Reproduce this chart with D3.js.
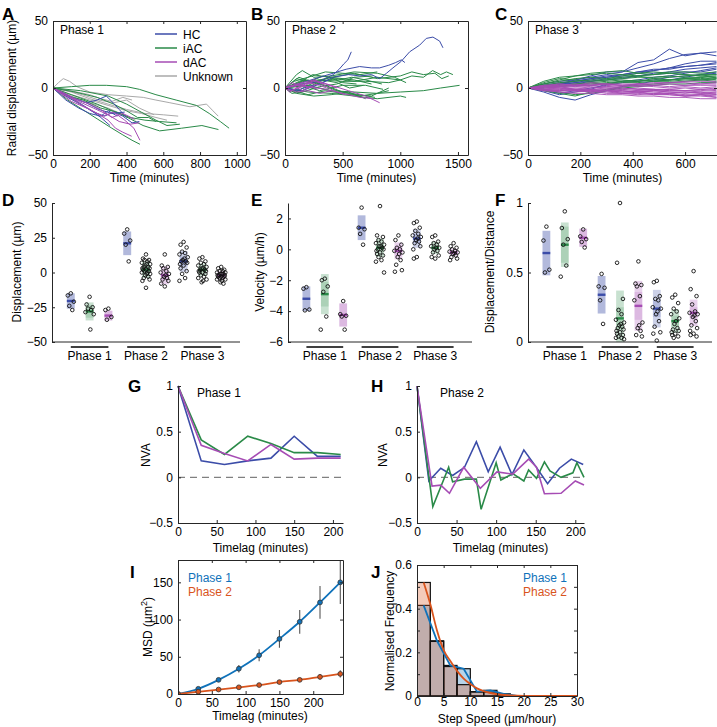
<!DOCTYPE html>
<html><head><meta charset="utf-8">
<script src="https://cdn.jsdelivr.net/npm/d3@7"></script>
<style>body{margin:0;background:#fff}</style>
</head><body><script>
// ---------------- DATA ----------------
const cellTypes = ["HC","iAC","dAC","Unknown"];
const typeColors = {HC:"#3b4ca8", iAC:"#2a8a48", dAC:"#a64cb4", Unknown:"#a9a9a9"};

// Panel A (Phase 1) trajectories: [time (min), radial displacement (µm)]
const trajA_HC = [
 [[0,0],[60,-4],[120,-8],[180,-11],[240,-9],[290,-6],[320,-10],[360,-16],[400,-22]],
 [[0,0],[80,-7],[160,-13],[220,-18],[280,-21],[330,-18],[380,-21],[430,-26],[470,-25]],
 [[0,0],[70,-9],[140,-15],[200,-19],[260,-21],[300,-17],[350,-21]],
 [[0,0],[60,-5],[130,-10],[200,-16],[260,-22],[310,-28]],
 [[0,0],[100,-7],[180,-11],[250,-16],[320,-19],[390,-18]]
];
const trajA_iAC = [
 [[0,0],[100,1],[200,2],[290,2],[400,1],[470,-1],[560,-5],[670,-9],[780,-13],[850,-19],[910,-25],[958,-30]],
 [[0,0],[80,-6],[165,-9],[260,-15],[346,-18],[420,-23],[490,-28],[580,-32],[700,-30],[810,-28],[900,-31]],
 [[0,0],[80,-9],[160,-16],[240,-23],[320,-30],[380,-35],[430,-39],[473,-42]],
 [[0,0],[120,-6],[240,-12],[340,-18],[420,-22],[500,-24],[580,-25],[672,-26]],
 [[0,0],[120,-3],[240,-7],[330,-12],[400,-17],[460,-22],[520,-22],[560,-25]],
 [[0,0],[150,-2],[300,-6],[400,-12],[480,-18],[560,-24],[620,-28],[690,-27]]
];
const trajA_dAC = [
 [[0,0],[80,-6],[160,-13],[240,-19],[300,-24],[340,-30],[380,-33],[428,-36]],
 [[0,0],[100,-10],[200,-16],[270,-21],[330,-18],[390,-24],[440,-30],[473,-39]],
 [[0,0],[60,-5],[140,-10],[220,-15],[300,-20],[360,-25],[420,-27],[470,-26]],
 [[0,0],[50,-3],[120,-8],[200,-12],[260,-16],[320,-22],[380,-19],[440,-23]]
];
const trajA_Unknown = [
 [[0,0],[30,4],[56,7],[90,5],[130,1],[200,-3],[300,-5],[400,-6],[491,-7],[560,-9],[636,-11],[745,-14],[835,-12],[870,-17],[899,-21]],
 [[0,0],[100,-3],[200,-8],[300,-12],[400,-16],[500,-19],[600,-20],[681,-21]],
 [[0,0],[100,-5],[200,-9],[300,-13],[400,-17],[480,-19],[560,-22],[620,-24]],
 [[0,0],[80,-2],[160,-5],[250,-9],[330,-11],[400,-9],[470,-15],[550,-20]],
 [[0,0],[60,-1],[130,-3],[200,-5],[260,-8],[320,-10],[380,-7],[430,-9]],
 [[0,0],[100,-6],[200,-11],[300,-15],[400,-21],[450,-24]]
];

// Panel B (Phase 2)
const trajB_HC = [
 [[0,0],[150,-2],[300,3],[416,8],[550,10],[650,9],[750,10],[821,7],[880,11],[936,15],[1009,20],[1081,27],[1168,32],[1225,37],[1283,38],[1341,35],[1370,30]],
 [[0,0],[150,4],[300,8],[416,11],[530,14],[647,16],[750,15],[821,15],[900,17],[960,19],[1009,21],[1040,19]],
 [[0,0],[150,3],[300,5],[420,10],[470,14],[510,18],[545,21],[575,27]],
 [[0,0],[100,-2],[200,1],[300,3],[380,6]]
];
const trajB_iAC = [
 [[0,0],[200,2],[400,-2],[600,-3],[800,-4],[1000,-3],[1200,-2],[1350,0],[1514,2]],
 [[0,0],[150,5],[300,6],[500,5],[700,5],[900,4],[1000,6],[1100,9],[1200,8],[1280,13],[1350,10],[1400,12],[1456,10]],
 [[0,0],[200,4],[400,8],[600,11],[800,7],[1000,9],[1100,12],[1200,10],[1300,11],[1360,7],[1420,9]],
 [[0,0],[100,10],[150,13],[250,8],[400,9],[600,12],[800,11],[950,8],[1050,4]],
 [[0,0],[200,-3],[400,-4],[600,-6],[800,-8],[1000,-6],[1050,-7]],
 [[0,0],[150,6],[300,3],[450,-2],[600,-5],[750,-6],[900,0]],
 [[0,0],[100,-4],[250,-6],[400,-5],[550,-3],[700,-8]],
 [[0,0],[80,5],[200,8],[350,12],[500,11],[650,10],[800,12]],
 [[0,0],[150,2],[300,-2],[500,2],[700,2],[850,-1]],
 [[0,0],[100,7],[250,4],[400,8],[600,6],[750,3]],
 [[0,0],[60,-4],[150,-3],[300,1],[450,3],[600,8],[760,9]],
 [[0,0],[200,-5],[350,-2],[500,-4],[650,-6],[800,-4],[900,-2]],
 [[0,0],[120,4],[240,10],[380,8],[500,4],[620,3]],
 [[0,0],[150,-2],[300,5],[450,7],[600,5],[800,8],[1000,6]],
 [[0,0],[100,3],[200,6],[350,2],[500,-3],[650,-5],[780,-7]],
 [[0,0],[90,-3],[200,2],[320,6],[450,4],[560,0],[680,2]],
 [[0,0],[120,8],[220,5],[330,9],[460,6],[580,8],[700,6],[840,3]]
];
const trajB_dAC = [
 [[0,0],[100,3],[250,6],[400,2],[550,-2],[700,-6],[821,-11]],
 [[0,0],[80,2],[200,1],[350,-1],[500,-4],[650,-7],[760,-8]],
 [[0,0],[50,-2],[150,1],[250,5],[350,3],[450,0]],
 [[0,0],[60,4],[120,2],[200,4],[300,2],[360,0]],
 [[0,0],[100,-3],[200,-2],[300,-4],[400,-2]],
 [[0,0],[70,2],[150,-2],[220,1],[280,-1]],
 [[0,0],[60,1],[140,3],[200,0],[260,2]],
 [[0,0],[40,-3],[100,0],[180,3],[260,6],[340,2],[420,-2],[520,-5]]
];

// Panel C (Phase 3): values at common times
const timesC = [0,60,120,180,240,300,360,420,480,540,600,660,720];
const trajC_HC = [
 [0,3,5,6,9,12,12,19,21,29,24,26,24],
 [0,1,3,6,8,10,12,15,18,22,25,26,27],
 [0,1,3,4,6,8,9,11,13,15,18,20,20],
 [0,2,4,5,7,9,10,12,14,14,16,17,18],
 [0,-2,-5,-3,-1,3,5,6,8,9,11,13,15],
 [0,-3,-7,-9,-5,-2,1,3,5,6,8,10,12],
 [0,1,2,4,5,7,8,9,10,11,12,12,14],
 [0,-1,-4,-2,0,2,4,5,6,8,9,10,11],
 [0,2,3,5,7,8,10,12,13,15,16,17,19],
 [0,1,3,3,5,6,7,9,11,12,14,15,16]
];
const trajC_iAC = [
 [0,5,8,9,11,12,13,11,10,12,12,11,12],
 [0,3,6,9,10,11,10,9,10,11,10,9,10],
 [0,2,4,5,6,6,7,8,8,9,8,8,9],
 [0,-2,-4,-6,-3,-1,1,2,3,4,5,6,7],
 [0,1,2,3,3,4,5,5,6,6,7,7,8],
 [0,4,7,6,5,6,8,9,7,6,7,8,6],
 [0,2,1,3,4,5,6,5,7,8,9,10,10],
 [0,1,3,2,4,3,5,6,5,6,7,6,5],
 [0,3,5,7,8,7,9,11,12,11,10,9,8],
 [0,0,1,2,2,3,4,4,5,5,6,6,7],
 [0,-1,-3,-5,-4,-2,0,1,2,3,3,4,4]
];
const trajC_dAC = [
 [0,-1,-2,-2,-3,-3,-4,-4,-5,-5,-6,-6,-7],
 [0,1,0,-1,-2,-2,-3,-3,-4,-4,-5,-5,-5],
 [0,2,1,2,1,0,0,-1,-1,-2,-2,-3,-3],
 [0,-2,-3,-4,-4,-5,-5,-6,-6,-7,-7,-8,-8],
 [0,1,2,1,2,3,2,3,3,4,4,3,4],
 [0,0,-1,0,-1,0,-1,0,-1,-1,0,-1,0],
 [0,-1,-1,-2,-2,-1,-2,-3,-2,-3,-3,-4,-4],
 [0,1,1,2,2,3,3,3,4,4,5,5,5],
 [0,-1,-3,-3,-2,-4,-4,-5,-4,-5,-6,-5,-6],
 [0,2,3,2,3,2,1,2,1,0,1,0,1],
 [0,-2,-2,-1,-3,-2,-3,-2,-3,-4,-3,-4,-3],
 [0,1,0,1,0,1,2,1,2,1,2,2,2],
 [0,-1,-2,-1,-1,-2,-1,-2,-2,-1,-2,-2,-1],
 [0,0,1,-1,-1,-2,-2,-3,-2,-3,-4,-3,-5],
 [0,1,2,3,2,1,0,-1,-1,-2,-2,-1,-2],
 [0,-1,0,-2,-3,-2,-4,-3,-5,-4,-6,-5,-7],
 [0,1,3,2,4,3,2,3,2,3,2,3,3]
];

// Panels D-F: groups ordered Phase1(HC,iAC,dAC), Phase2(...), Phase3(...)
const phases = ["Phase 1","Phase 2","Phase 3"];
const groupTypes = ["HC","iAC","dAC","HC","iAC","dAC","HC","iAC","dAC"];
const dispMean = [-20.5,-28,-31,21,2,-2,8,2,-2];
const dispSD   = [5.5,6.5,3.5,8.5,6,6.5,7.5,4.5,3];
const dispCI   = [5.5,4.5,3.5,8.5,2.5,3.5,3.5,2,1.2];
const dispPoints = [
 [-15,-16.5,-21,-24,-27],
 [-17.5,-23,-25,-26,-27,-28.5,-30,-41],
 [-26,-27,-32,-34],
 [31,28,23,20,8],
 [13,10,9,9,8,7,6,6,5,4,4,3,3,2,2,1,1,0,0,-1,-1,-2,-3,-4,-5,-6,-11],
 [13,5,4,3,1,0,-1,-2,-3,-4,-5,-6,-8,-10],
 [22,20,18,15,14,13,11,10,9,8,8,7,6,5,3,1,-1,-4,-6],
 [11,10,8,7,6,5,4,3,3,2,2,1,1,0,0,-1,-2,-3,-4,-5,-6,-7],
 [4,3,2,1,1,0,0,-1,-1,-1,-2,-2,-2,-3,-3,-3,-4,-4,-5,-5,-6,-7,-8]
];
const velMean = [-3.2,-2.9,-4.25,1.4,0.1,-0.1,0.7,0.1,-0.2];
const velSD   = [0.8,1.3,0.75,0.8,0.6,0.55,0.6,0.4,0.25];
const velCI   = [0.8,0.8,0.75,0.8,0.25,0.3,0.3,0.15,0.1];
const velPoints = [
 [-2.45,-2.55,-3.9,-3.95],
 [-1.9,-2.0,-2.4,-2.75,-4.35,-5.2],
 [-3.35,-4.2,-4.3,-4.35,-5.2],
 [2.7,1.4,1.3,1.0,0.3],
 [2.8,0.9,0.8,0.6,0.5,0.4,0.3,0.2,0.2,0.1,0.0,0.0,-0.1,-0.2,-0.3,-0.4,-0.5,-0.7,-0.8,-1.5],
 [0.9,0.6,0.3,0.1,0.0,-0.1,-0.2,-0.3,-0.5,-0.7,-1.0,-1.35,-1.45],
 [1.8,1.7,1.4,1.2,1.0,0.9,0.8,0.7,0.6,0.5,0.4,0.2,0.0,-0.5,-0.6],
 [0.9,0.8,0.5,0.4,0.3,0.2,0.1,0.1,0.0,-0.1,-0.2,-0.4,-0.5,-0.6],
 [0.4,0.2,0.1,0.0,-0.1,-0.15,-0.2,-0.25,-0.3,-0.4,-0.5,-0.6,-0.7]
];
const ratioMean = [0.64,0.70,0.75,0.34,0.17,0.26,0.24,0.15,0.21];
const ratioSD   = [0.16,0.16,0.065,0.135,0.2,0.18,0.135,0.085,0.095];
const ratioCI   = [0.16,0.13,0.065,0.135,0.08,0.1,0.06,0.04,0.04];
const ratioPoints = [
 [0.83,0.73,0.52,0.50],
 [0.94,0.82,0.74,0.70,0.55,0.47],
 [0.81,0.76,0.74,0.72,0.68],
 [0.49,0.40,0.39,0.30,0.13],
 [1.0,0.57,0.31,0.23,0.2,0.16,0.14,0.13,0.12,0.11,0.1,0.09,0.08,0.07,0.06,0.05,0.04,0.03,0.03,0.02],
 [0.58,0.42,0.41,0.4,0.33,0.3,0.14,0.12,0.1,0.08,0.05,0.04],
 [0.44,0.43,0.33,0.31,0.3,0.25,0.24,0.22,0.2,0.15,0.11,0.07,0.06,0.01],
 [0.34,0.32,0.28,0.24,0.22,0.2,0.17,0.15,0.13,0.1,0.09,0.08,0.07,0.06,0.05,0.04,0.03],
 [0.51,0.38,0.33,0.27,0.22,0.21,0.2,0.19,0.18,0.15,0.12,0.1,0.08,0.06,0.05,0.04]
];

// Panel G (Phase 1 NVA)
const nvaG_HC  = [[0,1],[30,0.18],[60,0.14],[90,0.18],[120,0.21],[150,0.45],[180,0.23],[210,0.23]];
const nvaG_iAC = [[0,1],[30,0.41],[60,0.25],[90,0.45],[120,0.37],[150,0.27],[180,0.27],[210,0.25]];
const nvaG_dAC = [[0,1],[30,0.35],[60,0.26],[90,0.18],[120,0.36],[150,0.20],[180,0.21],[210,0.21]];
// Panel H (Phase 2 NVA)
const nvaH_HC  = [[0,1],[15,-0.04],[30,0.1],[45,0.02],[60,0.11],[75,0.39],[90,0.06],[105,0.33],[120,0.03],[135,0.3],[150,0.12],[165,-0.07],[180,0.1],[195,0.2],[210,0.14]];
const nvaH_iAC = [[0,1],[20,-0.32],[40,0.11],[45,-0.05],[60,-0.02],[75,-0.02],[81,-0.35],[100,0.16],[106,-0.03],[121,0.04],[135,-0.04],[141,0.08],[151,-0.01],[161,0.17],[168,0.07],[182,0.0],[197,0.05],[202,0.16],[211,0.0]];
const nvaH_dAC = [[0,1],[19,-0.095],[30,-0.085],[41,-0.175],[59,0.11],[80,-0.12],[101,0.06],[121,0.035],[141,0.2],[151,0.11],[161,-0.18],[182,-0.175],[200,-0.04],[211,-0.085]];

// Panel I (MSD)
const msdTimes = [0,30,60,90,120,150,180,210,240];
const msdP1 = [0,7,19,34,52,74,97,123,150];
const msdP1err = [0,2,2.5,5,8,12,16,22,29];
const msdP2 = [0,3,6,9,12,16,19,23,27];
const msdP2err = [0,1,1,1.5,2,2,2.5,4,5];
const phaseColors = {"Phase 1":"#0f72ba", "Phase 2":"#d9541d"};

// Panel J (step speed histogram)
const binEdges = [0,2.5,5,7.5,10,12.5,15,17.5,20];
const histP1 = [0.415,0.253,0.14,0.125,0.02,0.026,0.01,0];
const histP2 = [0.52,0.25,0.135,0.052,0.018,0.018,0.005,0];
const lineP1 = [[1.25,0.415],[3.75,0.253],[6.25,0.14],[8.75,0.125],[11.25,0.02],[13.75,0.026],[16.25,0.01],[18.75,0],[30,0]];
const fitP2 = [[1.25,0.52],[2.5,0.42],[3.75,0.3],[5,0.21],[6.25,0.16],[7.5,0.115],[8.75,0.08],[10,0.055],[11.25,0.035],[12.5,0.022],[15,0.008],[17.5,0.003],[20,0.001],[30,0]];

// ---------------- DRAWING ----------------
const FONT = '"Liberation Sans", Arial, Helvetica, sans-serif';
const AX = "#262626";
const svg = d3.select("body").append("svg").attr("width",717).attr("height",727)
  .attr("font-family",FONT).attr("font-size",12);

function styleAxis(g){
  g.attr("font-size",12).attr("font-family",FONT);
  g.selectAll("path,line").attr("stroke",AX);
  g.selectAll("text").attr("fill","#000");
  return g;
}
function text(x,y,t,o={}){
  const el = svg.append("text").attr("x",x).attr("y",y).text(t)
    .attr("font-size",o.size||12).attr("fill",o.fill||"#000")
    .attr("text-anchor",o.anchor||"start");
  if(o.bold) el.attr("font-weight","bold");
  if(o.rotate) el.attr("transform",`rotate(-90,${x},${y})`);
  return el;
}
const fmtG = d => d3.format("~g")(d);
function axisB(x,y0,ticks,fmt,size=-3,pad=4){
  return svg.append("g").attr("transform",`translate(0,${y0})`)
    .call(d3.axisBottom(x).tickValues(ticks).tickFormat(fmt||fmtG).tickSizeInner(size).tickSizeOuter(0).tickPadding(pad)).call(styleAxis);
}
function axisL(y,x0,ticks,fmt,size=-3,pad=5){
  return svg.append("g").attr("transform",`translate(${x0},0)`)
    .call(d3.axisLeft(y).tickValues(ticks).tickFormat(fmt||fmtG).tickSizeInner(size).tickSizeOuter(0).tickPadding(pad)).call(styleAxis);
}
function axisT(x,y0,ticks){
  return svg.append("g").attr("transform",`translate(0,${y0})`)
    .call(d3.axisTop(x).tickValues(ticks).tickFormat("").tickSizeInner(-3).tickSizeOuter(0)).call(styleAxis);
}
function axisR(y,x0,ticks){
  return svg.append("g").attr("transform",`translate(${x0},0)`)
    .call(d3.axisRight(y).tickValues(ticks).tickFormat("").tickSizeInner(-3).tickSizeOuter(0)).call(styleAxis);
}
let clipN=0;
function clip(x,y){
  const id="clip"+(clipN++);
  svg.append("clipPath").attr("id",id).append("rect")
    .attr("x",x.range()[0]).attr("y",y.range()[1])
    .attr("width",x.range()[1]-x.range()[0]).attr("height",y.range()[0]-y.range()[1]);
  return `url(#${id})`;
}

// ---- A, B, C ----
function trajPanel(x,y,xticks,groups,title,letter,lx){
  const g = svg.append("g").attr("clip-path",clip(x,y));
  const line = d3.line().x(d=>x(d[0])).y(d=>y(d[1]));
  groups.forEach(([type,arr,op])=>{
    arr.forEach(tr=>{
      g.append("path").attr("d",line(tr)).attr("fill","none")
        .attr("stroke",typeColors[type]).attr("stroke-width",1).attr("stroke-opacity",op||1);
    });
  });
  axisB(x,y.range()[0],xticks);
  axisL(y,x.range()[0],[-50,0,50]);
  axisT(x,y.range()[1],xticks);
  axisR(y,x.range()[1],[-50,0,50]);
  text(x.range()[0]+7,34,title);
  text((x.range()[0]+x.range()[1])/2,182,"Time (minutes)",{anchor:"middle"});
  text(lx,20,letter,{size:17,bold:true});
}
const yTop = d3.scaleLinear([-50,50],[155,21]);
const xA = d3.scaleLinear([0,1050],[53,246]);
trajPanel(xA,yTop,[0,200,400,600,800,1000],
  [["Unknown",trajA_Unknown],["iAC",trajA_iAC],["HC",trajA_HC],["dAC",trajA_dAC]],"Phase 1","A",2);
const xB = d3.scaleLinear([0,1587],[285,468]);
trajPanel(xB,yTop,[0,500,1000,1500],
  [["iAC",trajB_iAC],["HC",trajB_HC],["dAC",trajB_dAC]],"Phase 2","B",251);
const xC = d3.scaleLinear([0,722],[528,717]);
const toPairs = arr => arr.map(v=>v.map((y,i)=>[timesC[i],y]));
trajPanel(xC,yTop,[0,200,400,600],
  [["HC",toPairs(trajC_HC)],["iAC",toPairs(trajC_iAC)],["dAC",toPairs(trajC_dAC),0.9]],"Phase 3","C",495);
text(16,88,"Radial displacement (µm)",{anchor:"middle",rotate:true});
// legend A
cellTypes.forEach((t,i)=>{
  const yy = 34+i*14;
  svg.append("line").attr("x1",155).attr("x2",177).attr("y1",yy).attr("y2",yy)
    .attr("stroke",typeColors[t]).attr("stroke-width",1.5);
  text(183,yy+4.5,t);
});

// ---- D, E, F ----
const jit = [0,-0.16,0.16,-0.08,0.08,-0.22,0.22,0.04,-0.04,0.12,-0.12,0.19,-0.19];
function dotPanel(x0,x1,domain,ticks,means,sds,cis,pts,ylabel,labX,letter,letX){
  const x = d3.scaleLinear([0,10],[x0,x1]);
  const y = d3.scaleLinear(domain,[342,203]);
  const g = svg.append("g").attr("clip-path",clip(x,y));
  const gp = svg.append("g");
  const hw = 0.21;
  means.forEach((m,i)=>{
    const pos=i+1, c=typeColors[groupTypes[i]];
    g.append("rect").attr("x",x(pos-hw)).attr("width",x(pos+hw)-x(pos-hw))
      .attr("y",y(m+sds[i])).attr("height",y(m-sds[i])-y(m+sds[i]))
      .attr("fill",c).attr("fill-opacity",0.26);
    g.append("rect").attr("x",x(pos-hw)).attr("width",x(pos+hw)-x(pos-hw))
      .attr("y",y(m+cis[i])).attr("height",y(m-cis[i])-y(m+cis[i]))
      .attr("fill",c).attr("fill-opacity",0.18);
    g.append("line").attr("x1",x(pos-hw)).attr("x2",x(pos+hw)).attr("y1",y(m)).attr("y2",y(m))
      .attr("stroke",c).attr("stroke-width",2.4);
    pts[i].forEach((v,k)=>{
      gp.append("circle").attr("cx",x(pos+jit[k%jit.length])).attr("cy",y(v)).attr("r",1.8)
        .attr("fill","none").attr("stroke","#111").attr("stroke-width",0.9);
    });
  });
  axisL(y,x0,ticks);
  svg.append("line").attr("x1",x0).attr("x2",x1).attr("y1",342).attr("y2",342).attr("stroke",AX);
  phases.forEach((p,j)=>{
    svg.append("line").attr("x1",x(3*j+1)).attr("x2",x(3*j+3)).attr("y1",347).attr("y2",347)
      .attr("stroke","#000").attr("stroke-width",1.5);
    text(x(3*j+2),360,p,{anchor:"middle"});
  });
  text(labX,272,ylabel,{anchor:"middle",rotate:true});
  text(letX,206,letter,{size:17,bold:true});
}
dotPanel(52,240,[-50,50],[-50,-25,0,25,50],dispMean,dispSD,dispCI,dispPoints,"Displacement (µm)",21,"D",2);
dotPanel(288,472,[-6,3],[-6,-4,-2,0,2],velMean,velSD,velCI,velPoints,"Velocity (µm/h)",264,"E",251);
dotPanel(528,712,[0,1],[0,0.5,1],ratioMean,ratioSD,ratioCI,ratioPoints,"Displacement/Distance",494,"F",495);

// ---- G, H ----
function nvaPanel(x,series,title,titleX,labX,letter,letX){
  const y = d3.scaleLinear([-0.5,1],[523,386]);
  svg.append("line").attr("x1",x.range()[0]).attr("x2",x.range()[1]).attr("y1",y(0)).attr("y2",y(0))
    .attr("stroke","#808080").attr("stroke-width",1.2).attr("stroke-dasharray","7,5");
  const line = d3.line().x(d=>x(d[0])).y(d=>y(d[1]));
  series.forEach(([type,d])=>{
    svg.append("path").attr("d",line(d)).attr("fill","none").attr("stroke",typeColors[type]).attr("stroke-width",1.6);
  });
  axisB(x,523,[0,50,100,150,200]);
  axisL(y,x.range()[0],[-0.5,0,0.5,1]);
  text(titleX,397,title);
  text((x.range()[0]+x.range()[1])/2,552,"Timelag (minutes)",{anchor:"middle"});
  text(labX,455,"NVA",{anchor:"middle",rotate:true});
  text(letX,392,letter,{size:17,bold:true});
}
nvaPanel(d3.scaleLinear([0,213],[178,343]),[["HC",nvaG_HC],["iAC",nvaG_iAC],["dAC",nvaG_dAC]],"Phase 1",197,150,"G",128);
nvaPanel(d3.scaleLinear([0,211],[417,584]),[["HC",nvaH_HC],["iAC",nvaH_iAC],["dAC",nvaH_dAC]],"Phase 2",440,387,"H",371);

// ---- I ----
(function(){
  const x = d3.scaleLinear([0,244],[178,343]);
  const y = d3.scaleLinear([0,180],[694,560]);
  const g = svg.append("g").attr("clip-path",clip(x,y));
  const line = d3.line().x(d=>x(d[0])).y(d=>y(d[1])).curve(d3.curveMonotoneX);
  [["Phase 1",msdP1,msdP1err],["Phase 2",msdP2,msdP2err]].forEach(([p,vals,err])=>{
    const c = phaseColors[p];
    const pts = msdTimes.map((t,i)=>[t,vals[i],err[i]]);
    g.append("path").attr("d",line(pts)).attr("fill","none").attr("stroke",c).attr("stroke-width",1.8);
    pts.forEach(d=>{
      if(d[2]>0) g.append("line").attr("x1",x(d[0])).attr("x2",x(d[0])).attr("y1",y(d[1]-d[2])).attr("y2",y(d[1]+d[2]))
        .attr("stroke","#555").attr("stroke-width",1.1);
    });
    pts.forEach(d=>{
      g.append("circle").attr("cx",x(d[0])).attr("cy",y(d[1])).attr("r",2.4)
        .attr("fill",c).attr("stroke","#333").attr("stroke-width",0.8);
    });
  });
  axisB(x,694,[0,50,100,150,200]);
  axisL(y,178,[0,50,100,150]);
  axisT(x,560,[0,50,100,150,200]);
  axisR(y,343,[0,50,100,150]);
  text(188,582,"Phase 1",{fill:phaseColors["Phase 1"]});
  text(188,596,"Phase 2",{fill:phaseColors["Phase 2"]});
  text(260,720,"Timelag (minutes)",{anchor:"middle"});
  const lab = svg.append("text").attr("transform","translate(152,627) rotate(-90)").attr("text-anchor","middle").attr("font-size",12);
  lab.append("tspan").text("MSD (µm");
  lab.append("tspan").text("2").attr("font-size",9).attr("dy",-5);
  lab.append("tspan").text(")").attr("dy",5);
  text(130,578,"I",{size:17,bold:true});
})();

// ---- J ----
(function(){
  const x = d3.scaleLinear([0,30],[417,577]);
  const y = d3.scaleLinear([0,0.6],[696,565]);
  const g = svg.append("g").attr("clip-path",clip(x,y));
  [["Phase 1",histP1],["Phase 2",histP2]].forEach(([p,h])=>{
    h.forEach((v,i)=>{
      if(v<=0) return;
      g.append("rect").attr("x",x(binEdges[i])).attr("width",x(binEdges[i+1])-x(binEdges[i]))
        .attr("y",y(v)).attr("height",y(0)-y(v))
        .attr("fill",phaseColors[p]).attr("fill-opacity",0.3)
        .attr("stroke","#111").attr("stroke-width",1.2);
    });
  });
  const line = d3.line().x(d=>x(d[0])).y(d=>y(d[1]));
  g.append("path").attr("d",line(lineP1)).attr("fill","none").attr("stroke",phaseColors["Phase 1"]).attr("stroke-width",1.8);
  g.append("path").attr("d",line.curve(d3.curveMonotoneX)(fitP2)).attr("fill","none").attr("stroke",phaseColors["Phase 2"]).attr("stroke-width",1.8);
  const yt = [0,0.1,0.2,0.3,0.4,0.5,0.6];
  axisB(x,696,[0,5,10,15,20,25,30],null,-3,1);
  axisL(y,417,yt,d=>[0,0.2,0.4,0.6].some(v=>Math.abs(v-d)<1e-9)?fmtG(d):"");
  axisT(x,565,[0,5,10,15,20,25,30]);
  axisR(y,577,yt);
  text(523,582,"Phase 1",{fill:phaseColors["Phase 1"]});
  text(523,596,"Phase 2",{fill:phaseColors["Phase 2"]});
  text(497,723,"Step Speed (µm/hour)",{anchor:"middle"});
  text(394,631,"Normalised Frequency",{anchor:"middle",rotate:true});
  text(371,578,"J",{size:17,bold:true});
})();
</script></body></html>
